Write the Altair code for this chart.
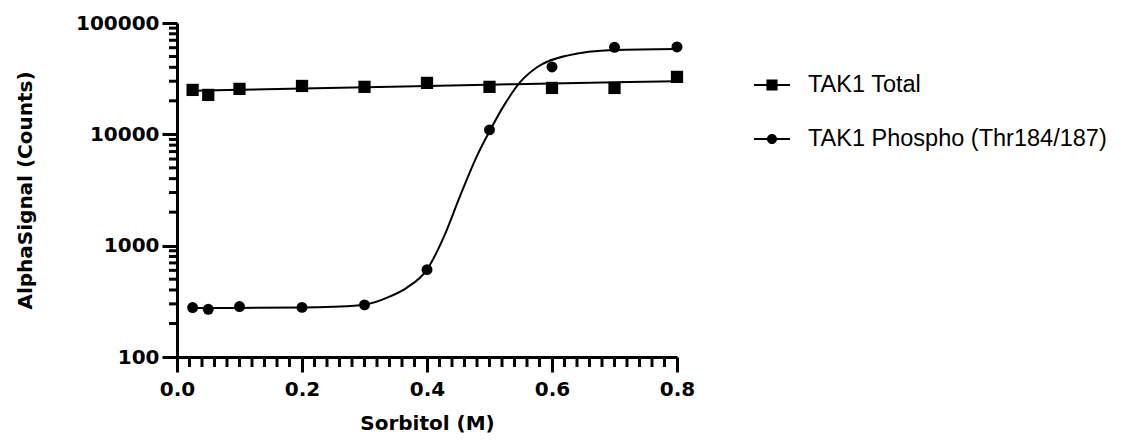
import altair as alt
import pandas as pd

# ---- data ----
series_names = ["TAK1 Total", "TAK1 Phospho (Thr184/187)"]

x_conc = [0.025, 0.05, 0.1, 0.2, 0.3, 0.4, 0.5, 0.6, 0.7, 0.8]
total_counts = [25060, 22600, 25600, 27200, 26700, 28970, 26700, 26100, 26100, 32800]
phospho_counts = [278, 268, 284, 279, 294, 609, 10970, 40300, 60500, 61000]

# fitted curves
total_fit_x = [0.025, 0.2, 0.4, 0.6, 0.8]
total_fit_y = [24600, 25800, 27200, 28600, 30000]
phospho_fit_x = [0.025, 0.1, 0.2, 0.25, 0.3, 0.341, 0.368, 0.4, 0.427, 0.453,
                 0.48, 0.501, 0.523, 0.549, 0.576, 0.624, 0.699, 0.8]
phospho_fit_y = [275, 276, 278, 283, 295, 350, 420, 610, 1200, 2800,
                 6400, 10900, 18100, 29400, 40000, 50900, 57300, 58400]

# axis tick positions
x_major_ticks = [0.0, 0.2, 0.4, 0.6, 0.8]
x_minor_ticks = [round(i * 0.02, 2) for i in range(41) if i % 10 != 0]
y_major_ticks = [100, 1000, 10000, 100000]
y_minor_ticks = [m * 10 ** e for e in (2, 3, 4) for m in range(2, 10)]

# ---- tables ----
tot = pd.DataFrame({"x": x_conc, "y": total_counts, "series": series_names[0]})
pho = pd.DataFrame({"x": x_conc, "y": phospho_counts, "series": series_names[1]})
pts = pd.concat([tot, pho], ignore_index=True)
fit = pd.DataFrame({
    "x": total_fit_x + phospho_fit_x,
    "y": total_fit_y + phospho_fit_y,
    "series": [series_names[0]] * len(total_fit_x) + [series_names[1]] * len(phospho_fit_x),
})
xminor = pd.DataFrame({"x": x_minor_ticks})
yminor = pd.DataFrame({"y": y_minor_ticks})

FONT = "DejaVu Sans"
BOLD_SIZE = 20
LEG_FONT = "Liberation Sans"

x_scale = alt.Scale(domain=[0, 0.8], nice=False, zero=False)
y_scale = alt.Scale(type="log", domain=[100, 100000], nice=False)

x_axis = alt.Axis(
    values=x_major_ticks, format=".1f",
    tickSize=15, tickWidth=3, tickColor="black",
    domainWidth=3, domainColor="black",
    labelFont=FONT, labelFontWeight="bold", labelFontSize=BOLD_SIZE, labelColor="black",
    labelPadding=7, labelFlush=False, grid=False,
    title="Sorbitol (M)", titleFont=FONT, titleFontWeight="bold",
    titleFontSize=BOLD_SIZE, titleColor="black", titlePadding=14,
)
y_axis = alt.Axis(
    values=y_major_ticks, format="d",
    tickSize=15, tickWidth=3, tickColor="black",
    domainWidth=3, domainColor="black",
    labelFont=FONT, labelFontWeight="bold", labelFontSize=BOLD_SIZE, labelColor="black",
    labelPadding=3, grid=False,
    title="AlphaSignal (Counts)", titleFont=FONT, titleFontWeight="bold",
    titleFontSize=BOLD_SIZE, titleColor="black", titlePadding=40,
)

total_points = alt.Chart(tot).mark_point(filled=True, color="black", opacity=1, shape="square", size=150).encode(
    x=alt.X("x:Q", scale=x_scale, axis=x_axis),
    y=alt.Y("y:Q", scale=y_scale, axis=y_axis),
)
phospho_points = alt.Chart(pho).mark_point(filled=True, color="black", opacity=1, shape="circle", size=120).encode(
    x=alt.X("x:Q", scale=x_scale),
    y=alt.Y("y:Q", scale=y_scale),
)

x_minor_rules = alt.Chart(xminor).mark_rule(color="black", strokeWidth=3).encode(
    x=alt.X("x:Q", scale=x_scale),
    y=alt.value(334), y2=alt.value(344),
)
y_minor_rules = alt.Chart(yminor).mark_rule(color="black", strokeWidth=3).encode(
    y=alt.Y("y:Q", scale=y_scale),
    x=alt.value(-8), x2=alt.value(0),
)

lines = alt.Chart(fit).mark_line(color="black", strokeWidth=2, interpolate="monotone").encode(
    x=alt.X("x:Q", scale=x_scale),
    y=alt.Y("y:Q", scale=y_scale),
    detail="series:N",
)

# legend symbols: a line with the marker on it (filled shapes only)
sq_path = "M-1,-0.05H1V0.05H-1Z M-0.31,-0.31H0.31V0.31H-0.31Z"
ci_path = "M-1,-0.05H1V0.05H-1Z M-0.28,0A0.28,0.28,0,1,1,0.28,0A0.28,0.28,0,1,1,-0.28,0Z"

legend_layer = alt.Chart(pts).mark_point(filled=True, color="black", opacity=0).encode(
    x=alt.X("x:Q", scale=x_scale),
    y=alt.Y("y:Q", scale=y_scale),
    shape=alt.Shape(
        "series:N",
        scale=alt.Scale(domain=series_names, range=[sq_path, ci_path]),
        legend=alt.Legend(
            title=None, orient="none", legendX=577, legendY=44,
            symbolSize=1296, symbolFillColor="black", symbolStrokeWidth=0,
            symbolOpacity=1,
            labelFont=LEG_FONT, labelFontSize=23.5, labelColor="black",
            labelOffset=18, rowPadding=24, labelLimit=0, padding=0,
        ),
    ),
)

chart = (
    alt.layer(total_points, phospho_points, x_minor_rules, y_minor_rules, lines, legend_layer)
    .properties(
        width=500, height=334,
        padding={"left": 7, "top": 5, "right": 2, "bottom": 0},
        view=alt.ViewBackground(stroke="transparent"),
    )
)

chart.save("out.html", embed_options={"renderer": "svg", "actions": False})
